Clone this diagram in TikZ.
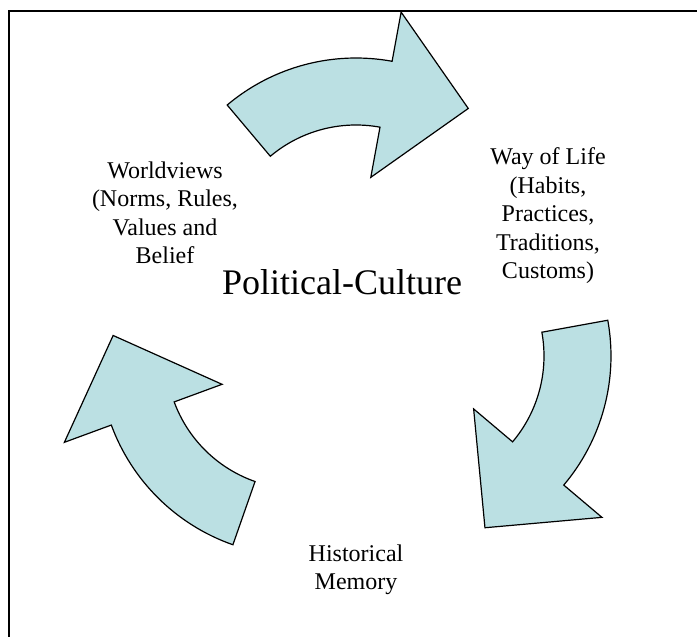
\documentclass[tikz,border=0pt]{standalone}
\usepackage{fontspec}
\setmainfont{Liberation Serif}
\definecolor{arrowblue}{HTML}{BBE0E3}
\begin{document}
\begin{tikzpicture}[x=1pt, y=1pt,
	a/.style={fill=arrowblue, draw=black, line width=1.2pt, line join=miter},
	t/.style={align=center, inner sep=0, font=\fontsize{24}{28.5}\selectfont}]
	\useasboundingbox (0,0) rectangle (697,637);
	\draw[line width=1.6pt] (8.7,0) -- (8.7,626) -- (697,626);
	% curved arrows: centre x, centre y, tail angle
	\foreach \cx/\cy/\s in {356/379/130.1, 411/281/10.3, 299/281/250.7}
		\draw[a, shift={(\cx,\cy)}] (\s:200pt) arc[start angle=\s, end angle=\s-50.5, radius=200pt]
			-- (\s-50.5:250pt) -- (\s-77:187pt) -- (\s-50.5:82pt) -- (\s-50.5:133pt)
			arc[start angle=\s-50.5, end angle=\s, radius=133pt] -- cycle;
	\node[t] (world) at (165,424) {Worldviews\\(Norms, Rules,\\Values and\\Belief};
	\node[t] (life) at (548,421) {Way of Life\\(Habits,\\Practices,\\Traditions,\\Customs)};
	\node[t] (memory) at (356,67) {Historical\\Memory};
	\node[anchor=base, inner sep=0, font=\fontsize{36}{40}\selectfont] (pc) at (342,342) {Political-Culture};
\end{tikzpicture}
\end{document}
